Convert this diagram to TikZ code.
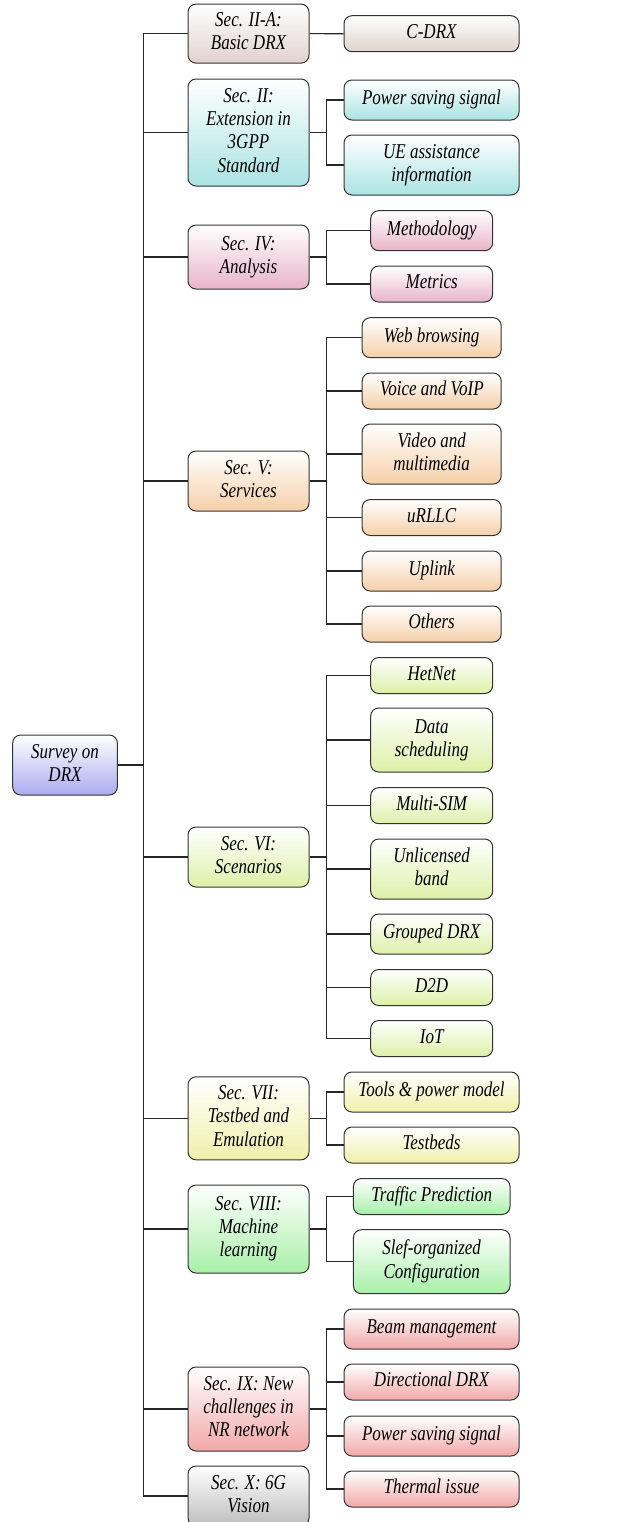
\documentclass[tikz,border=0pt]{standalone}
\usepackage{fontspec}
\setmainfont{Liberation Serif}
\usepackage{graphicx}
\definecolor{cBrown}{HTML}{E0D2CE}
\definecolor{cCyan}{HTML}{ABE3E3}
\definecolor{cPink}{HTML}{E8B4C8}
\definecolor{cPeach}{HTML}{F5CFA8}
\definecolor{cYG}{HTML}{DDF0A8}
\definecolor{cYel}{HTML}{F0F0AA}
\definecolor{cGreen}{HTML}{A8F0A8}
\definecolor{cRed}{HTML}{F2A8A8}
\definecolor{cGray}{HTML}{BDBDBD}
\definecolor{cBlue}{HTML}{ABABF0}
\newcommand\lbl[1]{\scalebox{1}[1.24]{\begin{tabular}{@{}c@{}}#1\end{tabular}}}
\tikzset{
  box/.style={draw=black!80, line width=0.5pt, rounded corners=4pt, inner sep=0pt,
    font=\fontsize{8.5}{9.4}\selectfont\itshape, align=center},
  sec/.style={box, minimum width=60.5pt},
  w175/.style={box, minimum width=87.5pt},
  w122/.style={box, minimum width=61pt},
  w139/.style={box, minimum width=69.5pt},
  w157/.style={box, minimum width=78.3pt},
  h36/.style={minimum height=18pt},
  h40/.style={minimum height=20pt},
  h60/.style={minimum height=30pt},
  h64/.style={minimum height=32pt},
  gr/.style={top color=white, bottom color=#1},
  conn/.style={draw=black!85, line width=0.6pt}
}
\begin{document}
\begin{tikzpicture}[x=0.5pt,y=-0.5pt]
\useasboundingbox (0,0) rectangle (636,1522);
% root
\node[box, minimum width=52.3pt, h60, gr=cBlue] (root) at (65,765) {\lbl{Survey on\\DRX}};
% sections
\node[sec, minimum height=29.5pt, gr=cBrown] (s1) at (248.5,33.6) {\lbl{Sec. II-A:\\Basic DRX}};
\node[sec, minimum height=53.5pt, gr=cCyan] (s2) at (248.5,132.5) {\lbl{Sec. II:\\Extension in\\3GPP\\Standard}};
\node[sec, minimum height=32pt, gr=cPink] (s3) at (248.5,257) {\lbl{Sec. IV:\\Analysis}};
\node[sec, h60, gr=cPeach] (s4) at (248.5,481) {\lbl{Sec. V:\\Services}};
\node[sec, h60, gr=cYG] (s5) at (248.5,857) {\lbl{Sec. VI:\\Scenarios}};
\node[sec, minimum height=41.5pt, gr=cYel] (s6) at (248.5,1118.3) {\lbl{Sec. VII:\\Testbed and\\Emulation}};
\node[sec, minimum height=44pt, gr=cGreen] (s7) at (248.5,1229) {\lbl{Sec. VIII:\\Machine\\learning}};
\node[sec, minimum height=42pt, gr=cRed] (s8) at (248.5,1409) {\lbl{Sec. IX: New\\challenges in\\NR network}};
\node[sec, h60, gr=cGray] (s9) at (248.5,1496) {\lbl{Sec. X: 6G\\Vision}};
% children
\node[w175, h36, gr=cBrown] (c11) at (431.5,33.7) {\lbl{C-DRX}};
\node[w175, h40, gr=cCyan] (c21) at (431.5,100) {\lbl{Power saving signal}};
\node[w175, h60, gr=cCyan] (c22) at (431.5,165) {\lbl{UE assistance\\information}};
\node[w122, h40, gr=cPink] (c31) at (431.7,230.7) {\lbl{Methodology}};
\node[w122, h36, gr=cPink] (c32) at (431.7,284) {\lbl{Metrics}};
\node[w139, h40, gr=cPeach] (c41) at (431.7,337.7) {\lbl{Web browsing}};
\node[w139, h36, gr=cPeach] (c42) at (431.7,391) {\lbl{Voice and VoIP}};
\node[w139, h60, gr=cPeach] (c43) at (431.7,454) {\lbl{Video and\\multimedia}};
\node[w139, h36, gr=cPeach] (c44) at (431.7,517.5) {\lbl{uRLLC}};
\node[w139, h40, gr=cPeach] (c45) at (431.7,571) {\lbl{Uplink}};
\node[w139, h36, gr=cPeach] (c46) at (431.7,624) {\lbl{Others}};
\node[w122, h36, gr=cYG] (c51) at (431.7,675.5) {\lbl{HetNet}};
\node[w122, h64, gr=cYG] (c52) at (431.7,740) {\lbl{Data\\scheduling}};
\node[w122, h36, gr=cYG] (c53) at (431.7,805.7) {\lbl{Multi-SIM}};
\node[w122, h60, gr=cYG] (c54) at (431.7,869) {\lbl{Unlicensed\\band}};
\node[w122, h40, gr=cYG] (c55) at (431.7,934) {\lbl{Grouped DRX}};
\node[w122, h36, gr=cYG] (c56) at (431.7,987.5) {\lbl{D2D}};
\node[w122, h36, gr=cYG] (c57) at (431.7,1038.5) {\lbl{IoT}};
\node[w175, h40, gr=cYel] (c61) at (431.5,1092) {\lbl{Tools \& power model}};
\node[w175, h36, gr=cYel] (c62) at (431.5,1145) {\lbl{Testbeds}};
\node[w157, h36, gr=cGreen] (c71) at (431.7,1196.5) {\lbl{Traffic Prediction}};
\node[w157, h64, gr=cGreen] (c72) at (431.7,1261.7) {\lbl{Slef-organized\\Configuration}};
\node[w175, h40, gr=cRed] (c81) at (431.5,1329) {\lbl{Beam management}};
\node[w175, h36, gr=cRed] (c82) at (431.5,1382) {\lbl{Directional DRX}};
\node[w175, h40, gr=cRed] (c83) at (431.5,1436) {\lbl{Power saving signal}};
\node[w175, h36, gr=cRed] (c84) at (431.5,1489) {\lbl{Thermal issue}};
% coordinates
\coordinate (t0) at (143.3,765);
\coordinate (tTop) at (143.3,33.6);
\coordinate (tBot) at (143.3,1496);
\coordinate (b2) at (326.7,132.5);
\coordinate (b3) at (326.7,257);
\coordinate (b4) at (326.7,481);
\coordinate (b5) at (326.7,857);
\coordinate (b6) at (326.7,1118.3);
\coordinate (b7) at (326.7,1229);
\coordinate (b8) at (326.7,1409);
% trunk
\draw[conn] (root.east) -- (t0);
\draw[conn] (tTop) -- (tBot);
\foreach \s in {s1,s2,s3,s4,s5,s6,s7,s8,s9} \draw[conn] (t0) |- (\s.west);
% section to children
\draw[conn] (s1.east) -- (c11.west);
\draw[conn] (s2.east) -- (b2);
\foreach \c in {c21,c22} \draw[conn] (b2) |- (\c.west);
\draw[conn] (s3.east) -- (b3);
\foreach \c in {c31,c32} \draw[conn] (b3) |- (\c.west);
\draw[conn] (s4.east) -- (b4);
\foreach \c in {c41,c42,c43,c44,c45,c46} \draw[conn] (b4) |- (\c.west);
\draw[conn] (s5.east) -- (b5);
\foreach \c in {c51,c52,c53,c54,c55,c56,c57} \draw[conn] (b5) |- (\c.west);
\draw[conn] (s6.east) -- (b6);
\foreach \c in {c61,c62} \draw[conn] (b6) |- (\c.west);
\draw[conn] (s7.east) -- (b7);
\foreach \c in {c71,c72} \draw[conn] (b7) |- (\c.west);
\draw[conn] (s8.east) -- (b8);
\foreach \c in {c81,c82,c83,c84} \draw[conn] (b8) |- (\c.west);
\end{tikzpicture}
\end{document}
